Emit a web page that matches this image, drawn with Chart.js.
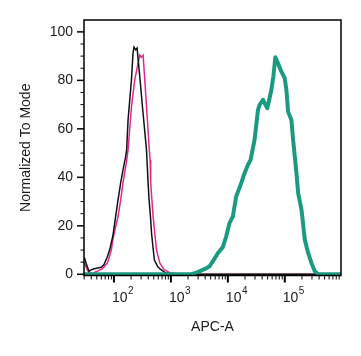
<!DOCTYPE html>
<html><head><meta charset="utf-8">
<script src="https://cdn.jsdelivr.net/npm/chart.js@4"></script>
<style>html,body{margin:0;padding:0;background:#fff}canvas{display:block}</style>
</head><body>
<canvas id="c" width="361" height="356"></canvas>
<script>
// ---- data (x = APC-A intensity, y = % of mode) ----
const blackX = [30.4,33,36.5,40.5,45,52,60,67,76,84,96,107,118,131,144,159,167,177,203,216,225,241,255,288,317,373,398,414,438,457,491,512,585,669,816,1085,1500,1000000];
const blackY = [6.8,4,1.2,1.9,2.3,2.6,2.9,4,7,10,16,23.8,30.7,37.6,43,48,51.3,63.7,80.2,91.2,93.7,92.6,93.3,80,69,51.3,37.6,30.7,23.8,17,10,6,3.2,1.9,0.5,0.1,0,0];
const pinkX = [30.4,33,36,39,42,47.6,55,62,67,76.5,84,90,96,107,118,131,144,167.5,177,203,232,265,284,302,325,348,373,418,431,442,487,559,640,759,1000,1500,2000,1000000];
const pinkY = [4.7,2.5,0.8,0.3,0.4,1.0,1.6,2.2,3,4.6,7.5,10,14.5,19.5,23.8,30.5,37.6,47,51.3,69.2,80.2,87,90.5,89.5,90.3,80.2,69.2,51.3,47,37.6,23.8,10,4.6,1.9,0.5,0.05,0,0];
const greenX = [29.8,2255,2960,3865,4740,5435,6665,8170,9340,10670,12250,14000,17170,19640,22540,25060,29450,33820,36070,41400,44230,49330,58030,62950,68260,76180,87120,99600,106700,114300,130700,139900,160200,171700,196400,224600,257600,294500,336600,386200,1000000];
const greenY = [0,0,0.9,2.1,3.2,5.3,8.7,11.2,15.6,21.1,23.8,32.1,37.6,41.7,45.2,47.2,55.5,67.8,69.9,72,70.6,68.5,76,81.6,89.5,87,83.6,80.9,76,67.1,63.7,55.5,41.7,33.5,26.6,14.2,8.7,4.6,1.2,0.1,0];

const xTickExponents = [2,3,4,5];
const yTickValues = [0,20,40,60,80,100];
const xTitle = 'APC-A';
const yTitle = 'Normalized To Mode';
const xMin = 29.8, xMax = 970000, yMin = -0.5, yMax = 104.9;

const FONT = '"Liberation Sans", Arial, Helvetica, sans-serif';
const zip = (xs, ys) => xs.map((v, i) => ({x: v, y: ys[i]}));

const decor = {
  id: 'decor',
  afterDatasetsDraw(chart) {
    const {ctx, chartArea: a, scales: {x, y}} = chart;
    ctx.save();
    ctx.strokeStyle = '#000';
    ctx.lineWidth = 1.5;
    ctx.strokeRect(a.left, a.top, a.right - a.left, a.bottom - a.top);
    // y ticks (major every 20, minor every 5)
    for (let v = 0; v <= yMax; v += 5) {
      const py = y.getPixelForValue(v);
      const major = v % 20 === 0;
      ctx.lineWidth = major ? 1.5 : 1;
      ctx.beginPath();
      ctx.moveTo(a.left - (major ? 7 : 3.5), py);
      ctx.lineTo(a.left, py);
      ctx.stroke();
    }
    // x ticks (log decades + minors)
    for (let e = 1; e <= 6; e++) {
      for (let m = 1; m <= 9; m++) {
        const v = m * Math.pow(10, e);
        if (v < x.min || v > x.max) continue;
        const px = x.getPixelForValue(v);
        const major = m === 1;
        ctx.lineWidth = major ? 2 : 1;
        ctx.beginPath();
        ctx.moveTo(px, a.bottom);
        ctx.lineTo(px, a.bottom + (major ? 7 : 4));
        ctx.stroke();
      }
    }
    // x tick labels 10^n
    ctx.fillStyle = '#1a1a1a';
    ctx.textAlign = 'left';
    ctx.textBaseline = 'alphabetic';
    xTickExponents.forEach(e => {
      const px = x.getPixelForValue(Math.pow(10, e));
      ctx.font = '14px ' + FONT;
      ctx.fillText('10', px - 2, a.bottom + 26);
      const w = ctx.measureText('10').width;
      ctx.font = '10px ' + FONT;
      ctx.fillText(String(e), px - 2 + w + 0.5, a.bottom + 18.5);
    });
    ctx.restore();
  }
};

new Chart(document.getElementById('c'), {
  type: 'line',
  data: {
    datasets: [
      {data: zip(greenX, greenY), borderColor: '#1a9b80', borderWidth: 4, order: 0, borderJoinStyle: 'round', borderCapStyle: 'round'},
      {data: zip(blackX, blackY), borderColor: '#111111', borderWidth: 1.5, order: 1},
      {data: zip(pinkX, pinkY), borderColor: '#e6268d', borderWidth: 1.5, order: 2}
    ]
  },
  options: {
    responsive: false,
    animation: false,
    events: [],
    layout: {padding: {top: 20, right: 20, left: 0, bottom: 0}},
    elements: {point: {radius: 0}, line: {tension: 0, fill: false}},
    plugins: {legend: {display: false}, tooltip: {enabled: false}},
    scales: {
      x: {
        type: 'logarithmic', min: xMin, max: xMax,
        grid: {display: false, drawTicks: false}, border: {display: false},
        ticks: {display: false},
        title: {display: true, text: xTitle, color: '#1a1a1a', font: {family: FONT, size: 14}, padding: {bottom: 20.5, top: 0}},
        afterFit: s => { s.height = 80.5; }
      },
      y: {
        type: 'linear', min: yMin, max: yMax,
        grid: {display: false, drawTicks: false}, border: {display: false},
        afterBuildTicks: s => { s.ticks = yTickValues.map(v => ({value: v})); },
        ticks: {color: '#1a1a1a', font: {family: FONT, size: 14}, padding: 11},
        title: {display: true, text: yTitle, color: '#1a1a1a', font: {family: FONT, size: 14}, padding: {top: 18, bottom: 0}},
        afterFit: s => { s.width = 84; }
      }
    }
  },
  plugins: [decor]
});
</script>
</body></html>
